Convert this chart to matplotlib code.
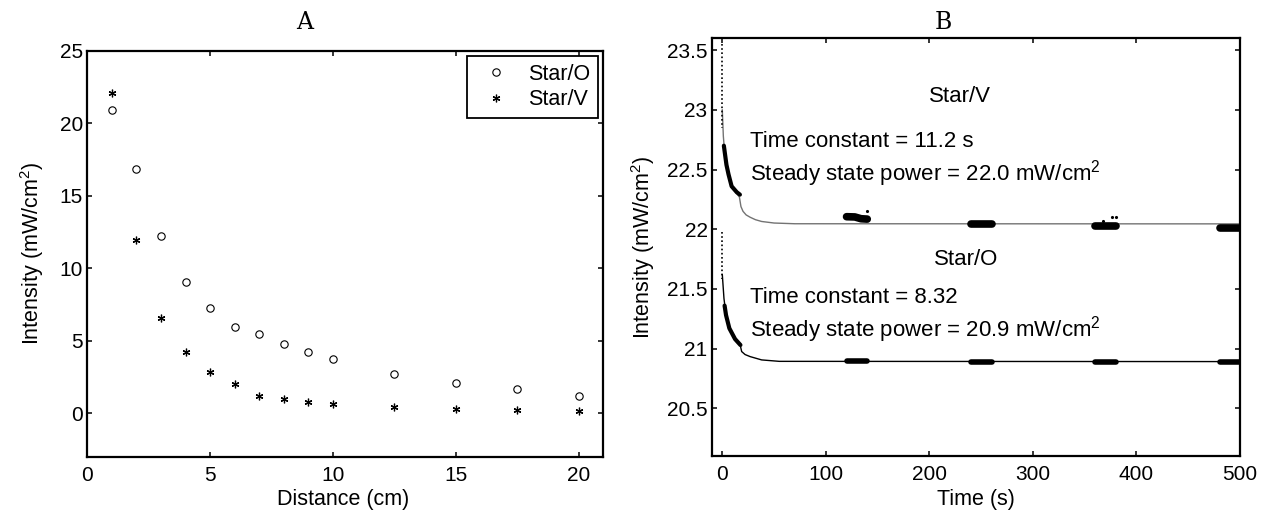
import matplotlib
matplotlib.use('Agg')
import matplotlib.pyplot as plt
from matplotlib.ticker import FormatStrFormatter

plt.rcParams['font.family'] = ['Liberation Sans', 'DejaVu Sans']
plt.rcParams['mathtext.default'] = 'regular'

# ---- panel A: intensity vs distance ----
distance = [1, 2, 3, 4, 5, 6, 7, 8, 9, 10, 12.5, 15, 17.5, 20]
star_o = [20.9, 16.85, 12.2, 9.05, 7.25, 5.97, 5.47, 4.74, 4.2, 3.75, 2.71, 2.07, 1.66, 1.22]
star_v = [22.1, 11.95, 6.55, 4.25, 2.83, 2.0, 1.22, 0.99, 0.77, 0.62, 0.44, 0.32, 0.21, 0.14]

# ---- panel B: intensity vs time ----
# fitted curves
fit_v_t = [0, 1, 2, 4, 6, 9, 13, 16.5, 18, 20, 23, 27, 32, 38, 50, 70, 500]
fit_v = [23.0, 22.78, 22.67, 22.54, 22.46, 22.37, 22.31, 22.27, 22.19, 22.15, 22.12,
         22.10, 22.08, 22.065, 22.052, 22.046, 22.045]
fit_o_t = [0, 1.6, 3.6, 6.8, 12.3, 17, 18.7, 22, 26.8, 38, 55, 500]
fit_o = [21.62, 21.42, 21.28, 21.17, 21.09, 21.04, 20.975, 20.95, 20.933, 20.905, 20.893, 20.891]

# first 17 s of measured data
meas_v_t = [1.5, 4, 6, 9, 14, 17]
meas_v = [22.7, 22.54, 22.46, 22.36, 22.31, 22.29]
meas_o_t = [2.2, 3.6, 6.8, 12.3, 17.5]
meas_o = [21.36, 21.28, 21.17, 21.08, 21.03]

# sparse readings right at t = 0 (top, bottom)
spike_v = [23.55, 22.85]
spike_o = [21.98, 21.58]

# later measurement windows
win_v_t = [[120, 128, 134, 140], [240, 260], [360, 380], [481, 500]]
win_v = [[22.105, 22.103, 22.088, 22.085], [22.043, 22.043], [22.027, 22.027], [22.012, 22.012]]
win_o_t = [[120, 140], [240, 260], [360, 380], [481, 500]]
win_o = [[20.897, 20.897], [20.888, 20.888], [20.884, 20.884], [20.884, 20.884]]
stray_t = [139.5, 367.4, 376, 380]
stray_v = [22.152, 22.071, 22.099, 22.099]

FS = 15.5

fig = plt.figure(figsize=(12.63, 5.16), dpi=100)
axA = fig.add_axes([0.0691, 0.1149, 0.4086, 0.7868])
axB = fig.add_axes([0.5637, 0.1163, 0.4181, 0.8095])


def style(ax):
    for s in ax.spines.values():
        s.set_linewidth(1.6)
    ax.tick_params(direction='in', top=True, right=True, length=3.6, width=1.1,
                   labelsize=15)
    ax.tick_params(axis='y', pad=3.2)
    ax.tick_params(axis='x', pad=6.5)


# ---------- A ----------
axA.plot(distance, star_o, linestyle='none', marker='o', ms=5.3, mfc='none',
         mec='black', mew=0.8, label='Star/O')
axA.plot(distance, star_v, linestyle='none', marker=(6, 2, 0), ms=5.5,
         mec='black', mew=0.9, label='Star/V')
axA.set_xlim(0, 21)
axA.set_ylim(-3, 25)
axA.set_xticks([0, 5, 10, 15, 20])
axA.set_yticks([0, 5, 10, 15, 20, 25])
axA.set_xlabel('Distance (cm)', fontsize=FS)
axA.set_ylabel('Intensity (mW/cm$^2$)', fontsize=FS)
axA.xaxis.set_label_coords(0.495, -0.080)
axA.yaxis.set_label_coords(-0.080, 0.5)
style(axA)
leg = axA.legend(loc='upper right', fontsize=FS, numpoints=1, fancybox=False,
                 edgecolor='black', framealpha=1, borderaxespad=0.26, borderpad=0.35,
                 handlelength=2.0, handletextpad=0.5, labelspacing=0.2)
leg.get_frame().set_linewidth(1.3)
axA.set_title('A', x=0.422, y=1.07, pad=0, va='center',
              fontfamily='DejaVu Serif', fontsize=17)

# ---------- B ----------
axB.plot(fit_v_t, fit_v, color='0.45', lw=1.0)
axB.plot(fit_o_t, fit_o, color='black', lw=1.0)
axB.plot([0, 0], spike_v, color='black', lw=1.2, linestyle=(0, (1, 1.5)))
axB.plot([0, 0], spike_o, color='black', lw=1.2, linestyle=(0, (1, 1.5)))
axB.plot(meas_v_t, meas_v, color='black', lw=3.0, solid_capstyle='round')
axB.plot(meas_o_t, meas_o, color='black', lw=3.0, solid_capstyle='round')
for tt, vv in zip(win_v_t, win_v):
    axB.plot(tt, vv, color='black', lw=5.5, solid_capstyle='round')
for tt, vv in zip(win_o_t, win_o):
    axB.plot(tt, vv, color='black', lw=4.0, solid_capstyle='round')
axB.plot(stray_t, stray_v, linestyle='none', marker='.', ms=2.5, color='black')

axB.text(230, 23.113, 'Star/V', ha='center', va='center', fontsize=16)
axB.text(26.4, 22.736, 'Time constant = 11.2 s', ha='left', va='center', fontsize=16)
axB.text(26.4, 22.47, 'Steady state power = 22.0 mW/cm$^2$', ha='left', va='center', fontsize=16)
axB.text(235.6, 21.75, 'Star/O', ha='center', va='center', fontsize=16)
axB.text(26.4, 21.43, 'Time constant = 8.32', ha='left', va='center', fontsize=16)
axB.text(26.4, 21.16, 'Steady state power = 20.9 mW/cm$^2$', ha='left', va='center', fontsize=16)

axB.set_xlim(-10, 500)
axB.set_ylim(20.1, 23.6)
axB.set_xticks([0, 100, 200, 300, 400, 500])
axB.set_yticks([20.5, 21, 21.5, 22, 22.5, 23, 23.5])
axB.yaxis.set_major_formatter(FormatStrFormatter('%g'))
axB.set_xlabel('Time (s)', fontsize=FS)
axB.set_ylabel('Intensity (mW/cm$^2$)', fontsize=FS)
axB.xaxis.set_label_coords(0.5, -0.078)
axB.yaxis.set_label_coords(-0.105, 0.5)
style(axB)
axB.set_title('B', x=0.4375, y=1.037, pad=0, va='center',
              fontfamily='DejaVu Serif', fontsize=17)

fig.savefig('out.png', dpi=100)
